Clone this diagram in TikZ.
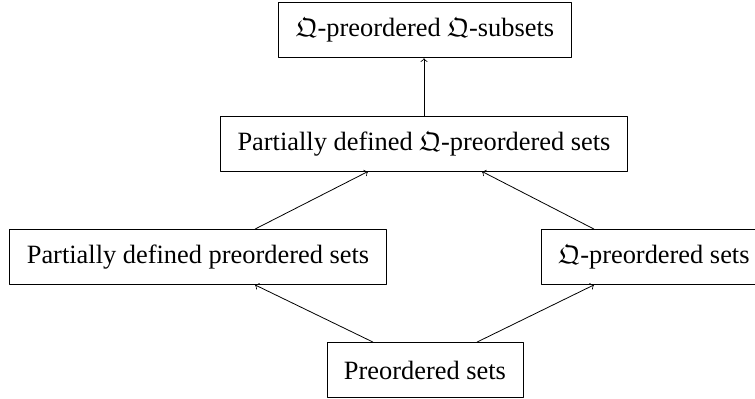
\documentclass[tikz,border=0pt]{standalone}
\usepackage{amssymb}
\usepackage{fontspec}
\setmainfont{Liberation Serif}
\usetikzlibrary{calc}
\tikzset{setbox/.style={draw,font=\fontsize{13.2}{15}\selectfont,inner xsep=8.5pt,minimum height=27.5pt}}

\begin{document}
\begin{tikzpicture}[x=1pt,y=1pt,line join=round]
    \useasboundingbox (0,0) rectangle (377.5,199.5);
    \node[setbox] (qsub) at (212.5,184.3) {$\mathfrak{Q}$-preordered $\mathfrak{Q}$-subsets};
    \node[setbox] (pdq) at (212,127.7) {Partially defined $\mathfrak{Q}$-preordered sets};
    \node[setbox] (pdp) at (99,71) {Partially defined preordered sets};
    \node[setbox] (qpre) at (327,71) {$\mathfrak{Q}$-preordered sets};
    \node[setbox] (pre) at (212.5,14.5) {Preordered sets};
    % arrows
    \draw[->](pdq.north)--(pdq.north |- qsub.south);
    \draw[->]([xshift=-26pt]pre.north)--([xshift=28.5pt]pdp.south);
    \draw[->]([xshift=26pt]pre.north)--([xshift=-30pt]qpre.south);
    \draw[->]([xshift=28.5pt]pdp.north)--([xshift=-28pt]pdq.south);
    \draw[->]([xshift=-30pt]qpre.north)--([xshift=29pt]pdq.south);
\end{tikzpicture}
\end{document}
